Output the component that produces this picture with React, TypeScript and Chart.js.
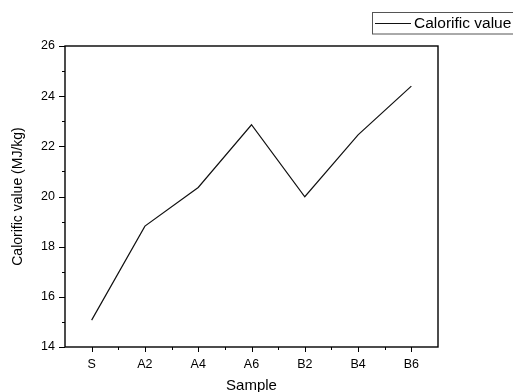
import React, { useEffect, useRef } from 'react';
import { Chart, registerables } from 'chart.js';

Chart.register(...registerables);

const categories = ['S', 'A2', 'A4', 'A6', 'B2', 'B4', 'B6'];
const calorificValues = [15.07, 18.82, 20.36, 22.86, 19.99, 22.46, 24.4];
const yMajorTicks = [14, 16, 18, 20, 22, 24, 26];
const yMinorTicks = [15, 17, 19, 21, 23, 25];
const seriesLabel = 'Calorific value';
const xTitle = 'Sample';
const yTitle = 'Calorific value (MJ/kg)';

const FONT = '"Liberation Sans", Arial, sans-serif';

const frameAndTicks = {
  id: 'frameAndTicks',
  afterDraw(chart: any) {
    const { ctx, chartArea: a, scales } = chart;
    const x = scales.x;
    const y = scales.y;
    const snap = (v: number) => Math.round(v) + 0.5;
    ctx.save();
    ctx.strokeStyle = '#000';
    ctx.lineWidth = 1.4;
    ctx.strokeRect(a.left, a.top, a.right - a.left, a.bottom - a.top);
    ctx.lineWidth = 1;
    ctx.beginPath();
    yMajorTicks.forEach((v) => {
      const py = snap(y.getPixelForValue(v));
      ctx.moveTo(a.left - 6, py);
      ctx.lineTo(a.left, py);
    });
    yMinorTicks.forEach((v) => {
      const py = snap(y.getPixelForValue(v));
      ctx.moveTo(a.left - 3, py);
      ctx.lineTo(a.left, py);
    });
    categories.forEach((_, i) => {
      const px = snap(x.getPixelForValue(i));
      ctx.moveTo(px, a.bottom);
      ctx.lineTo(px, a.bottom + 5);
      if (i < categories.length - 1) {
        const pm = snap((x.getPixelForValue(i) + x.getPixelForValue(i + 1)) / 2);
        ctx.moveTo(pm, a.bottom);
        ctx.lineTo(pm, a.bottom + 3);
      }
    });
    ctx.stroke();
    ctx.restore();
  },
};

const boxedLegend = {
  id: 'boxedLegend',
  afterDraw(chart: any) {
    const { ctx } = chart;
    const ds = chart.data.datasets[0];
    ctx.save();
    ctx.strokeStyle = '#555';
    ctx.lineWidth = 1;
    ctx.strokeRect(372.5, 12.5, 160, 21.5);
    ctx.strokeStyle = ds.borderColor;
    ctx.lineWidth = 1;
    ctx.beginPath();
    ctx.moveTo(375, 23.5);
    ctx.lineTo(411, 23.5);
    ctx.stroke();
    ctx.fillStyle = '#000';
    ctx.font = `15.5px ${FONT}`;
    ctx.textBaseline = 'middle';
    ctx.textAlign = 'left';
    ctx.fillText(ds.label, 414, 24);
    ctx.restore();
  },
};

export default function App() {
  const ref = useRef<HTMLCanvasElement | null>(null);

  useEffect(() => {
    document.body.style.margin = '0';
    const canvas = ref.current;
    if (!canvas) return;
    const chart = new Chart(canvas, {
      type: 'line',
      data: {
        labels: categories,
        datasets: [
          {
            label: seriesLabel,
            data: calorificValues,
            borderColor: '#111',
            borderWidth: 1.2,
            pointRadius: 0,
            tension: 0,
            fill: false,
          },
        ],
      },
      options: {
        responsive: false,
        animation: false,
        events: [],
        layout: { padding: { top: 46, right: 75, left: 0, bottom: 0 } },
        plugins: {
          legend: { display: false },
          tooltip: { enabled: false },
          title: { display: false },
        },
        scales: {
          x: {
            type: 'category',
            offset: true,
            grid: { display: false, drawTicks: false, tickLength: 0 },
            border: { display: false },
            ticks: {
              color: '#000',
              font: { family: FONT, size: 12.5 },
              padding: 10,
              maxRotation: 0,
              autoSkip: false,
            },
            title: {
              display: true,
              text: xTitle,
              color: '#000',
              font: { family: FONT, size: 15, lineHeight: 0.8 },
              padding: { top: 0, bottom: 0 },
            },
            afterFit: (s: any) => {
              s.height = 45;
            },
          },
          y: {
            min: 14,
            max: 26,
            grid: { display: false, drawTicks: false, tickLength: 0 },
            border: { display: false },
            ticks: {
              color: '#000',
              font: { family: FONT, size: 12.5 },
              padding: 10,
              stepSize: 2,
            },
            afterBuildTicks: (s: any) => {
              s.ticks = yMajorTicks.map((v) => ({ value: v }));
            },
            title: {
              display: true,
              text: yTitle,
              color: '#000',
              font: { family: FONT, size: 14, lineHeight: 1 },
              padding: { top: 11.5, bottom: 0 },
            },
            afterFit: (s: any) => {
              s.width = 65;
            },
          },
        },
      },
      plugins: [frameAndTicks, boxedLegend],
    } as any);
    return () => chart.destroy();
  }, []);

  return (
    <canvas
      ref={ref}
      width={513}
      height={392}
      style={{ display: 'block', position: 'fixed', left: 0, top: 0, width: 513, height: 392 }}
    />
  );
}
